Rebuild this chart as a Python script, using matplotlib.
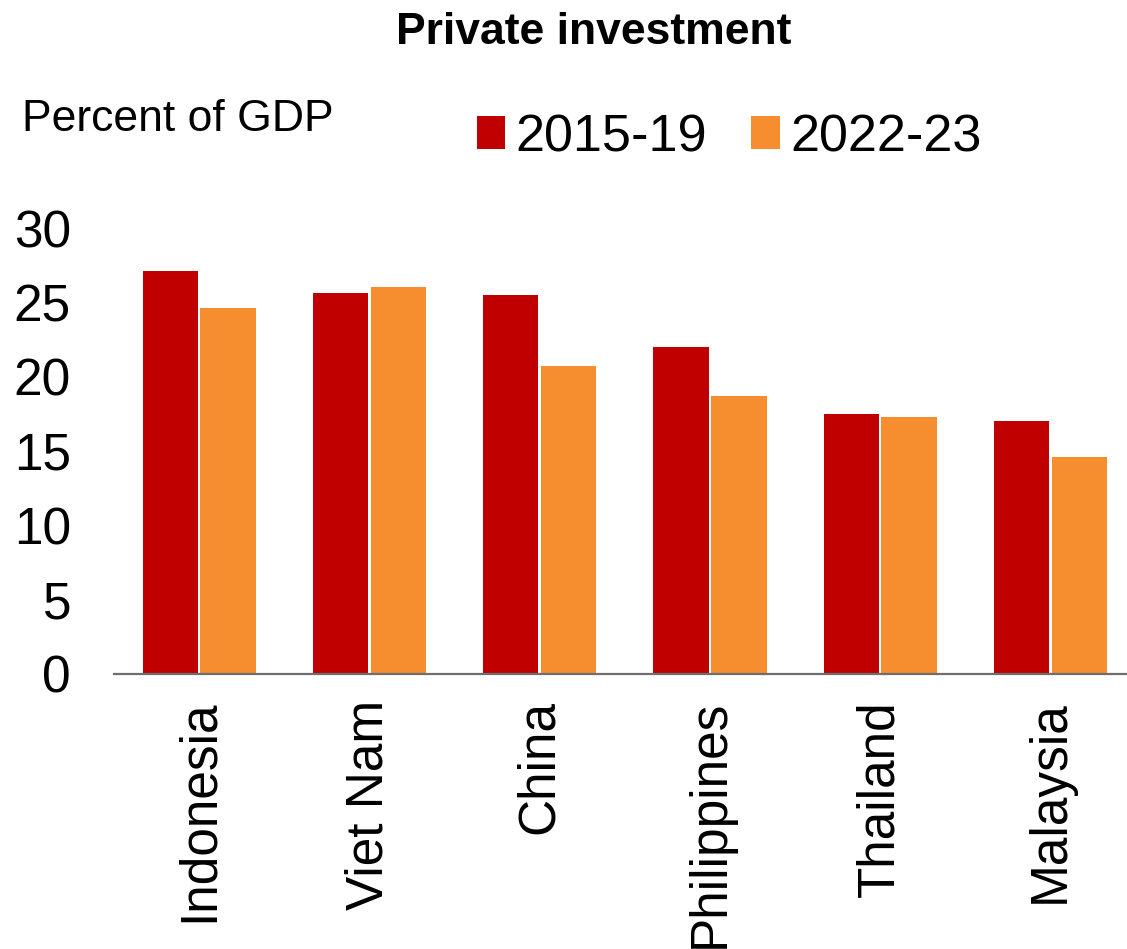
import matplotlib.pyplot as plt
import numpy as np

countries = ['Indonesia', 'Viet Nam', 'China', 'Philippines', 'Thailand', 'Malaysia']
inv_2015_19 = [27.1, 25.6, 25.5, 22.0, 17.5, 17.0]
inv_2022_23 = [24.6, 26.0, 20.7, 18.7, 17.3, 14.6]

plt.rcParams['font.family'] = ['Liberation Sans', 'DejaVu Sans']

fig = plt.figure(figsize=(11.27, 9.49), dpi=100)
ax = fig.add_axes([0.1012, 0.2903, 0.8988, 0.4694])

ind = np.arange(len(countries))
width = 0.325

ax.bar(ind - 0.17, inv_2015_19, width, color='#C00000', label='2015-19')
ax.bar(ind + 0.17, inv_2022_23, width, color='#F68D2E', label='2022-23')

ax.set_xlim(-0.5, 5.45)
ax.set_ylim(0, 30)
ax.set_yticks(range(0, 31, 5))
ax.set_xticks(ind)
ax.set_xticklabels(countries, rotation=90)
ax.tick_params(axis='y', length=0, labelsize=37, pad=31)
ax.tick_params(axis='x', length=0, labelsize=37, pad=19)

for s in ['top', 'right', 'left']:
    ax.spines[s].set_visible(False)
ax.spines['bottom'].set_color('#6E6E6E')
ax.spines['bottom'].set_linewidth(1.6)

# title in a narrow face if one is around, otherwise a slightly smaller bold sans
fig.text(0.527, 0.966, 'Private investment', ha='center', va='center',
         fontsize=32, fontweight='bold',
         family=['Liberation Sans Narrow', 'Liberation Sans'])
fig.text(0.0195, 0.874, 'Percent of GDP', ha='left', va='center', fontsize=32)

ax.legend(loc='center', bbox_to_anchor=(0.647, 0.855), bbox_transform=fig.transFigure,
          ncol=2, frameon=False, fontsize=37.5, handlelength=0.54, handleheight=0.6,
          handletextpad=0.2, columnspacing=0.85, borderpad=0)

fig.savefig('out.png', dpi=100)
